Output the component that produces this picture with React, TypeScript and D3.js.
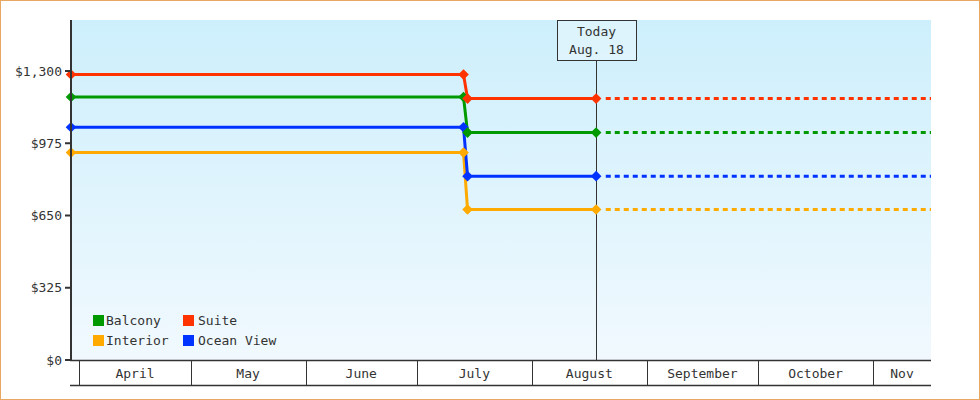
import React from "react";
import * as d3 from "d3";

const seriesNames = ["Balcony", "Suite", "Interior", "Ocean View"];
const seriesColors = ["#009900", "#ff3300", "#ffaa00", "#0033ff"];
// [year, month(0-based), day, hour]
const pointDates: [number, number, number, number][] = [
  [2024, 2, 29, 18],
  [2024, 6, 13, 14],
  [2024, 6, 14, 16],
  [2024, 7, 18, 8],
];
const balconyValues = [1183, 1183, 1023, 1023];
const suiteValues = [1284, 1284, 1176, 1176];
const interiorValues = [933, 933, 677, 677];
const oceanViewValues = [1047, 1047, 827, 827];
const yTicks = [0, 325, 650, 975, 1300];
const monthLabels = ["April", "May", "June", "July", "August", "September", "October", "Nov"];
const monthStarts: [number, number][] = [
  [2024, 3], [2024, 4], [2024, 5], [2024, 6], [2024, 7], [2024, 8], [2024, 9], [2024, 10],
];
const domainStart: [number, number, number, number] = [2024, 2, 29, 18];
const domainEnd: [number, number, number, number] = [2024, 10, 16, 15];
const todayDate: [number, number, number, number] = [2024, 7, 18, 8];
const todayLabel = ["Today", "Aug. 18"];

const W = 980;
const H = 400;
const L = 71;
const R = 931;
const T = 20;
const B = 360;
const FONT = "'DejaVu Sans Mono', monospace";

const mk = (a: number[]) => new Date(Date.UTC(a[0], a[1], a[2] ?? 1, a[3] ?? 0));

export default function App() {
  const x = d3.scaleUtc().domain([mk(domainStart), mk(domainEnd)]).range([L, R]);
  const y = d3.scaleLinear().domain([0, 1300]).range([B, 71]);
  const allValues = [balconyValues, suiteValues, interiorValues, oceanViewValues];
  const dates = pointDates.map((d) => mk(d));
  const line = d3
    .line<[Date, number]>()
    .x((d) => x(d[0]))
    .y((d) => y(d[1]));
  const diamond = d3.symbol().type(d3.symbolDiamond2).size(72)();
  const monthX = monthStarts.map((m) => x(mk(m)));
  const today = mk(todayDate);
  const todayX = Math.floor(x(today)) + 0.5;
  const drawOrder = [2, 3, 0, 1];

  return (
    <div style={{ position: "absolute", left: 0, top: 0, width: W, height: H }}>
      <svg width={W} height={H} style={{ display: "block", fontFamily: FONT }}>
        <defs>
          <linearGradient id="bg" x1="0" y1="0" x2="0" y2="1">
            <stop offset="0" stopColor="#cdeffc" />
            <stop offset="1" stopColor="#f1f9fe" />
          </linearGradient>
          <clipPath id="plot">
            <rect x={L} y={T} width={R - L} height={B - T} />
          </clipPath>
        </defs>
        <rect x={0} y={0} width={W} height={H} fill="#fff" />
        <rect x={0.5} y={0.5} width={W - 1} height={H - 1} fill="none" stroke="#e8a862" />
        <rect x={L} y={T} width={R - L} height={B - T} fill="url(#bg)" />

        {/* Today marker */}
        <line x1={todayX} x2={todayX} y1={60} y2={B} stroke="#333" strokeWidth={1} />
        <rect x={todayX - 39} y={20.5} width={79} height={40} fill="rgba(255,255,255,0.3)" stroke="#333" strokeWidth={1} />
        <text x={todayX} y={36} textAnchor="middle" fontSize={13} fill="#333">{todayLabel[0]}</text>
        <text x={todayX} y={54} textAnchor="middle" fontSize={13} fill="#333">{todayLabel[1]}</text>

        {/* Series */}
        <g clipPath="url(#plot)">
          {drawOrder.map((i) => {
            const vals = allValues[i];
            const pts: [Date, number][] = dates.map((d, k) => [d, vals[k]]);
            const last = pts[pts.length - 1];
            const dashed: [Date, number][] = [
              [new Date(today.getTime() + 2.6 * 86400000), last[1]],
              [mk(domainEnd), last[1]],
            ];
            return (
              <g key={i}>
                <path d={line(pts) || ""} fill="none" stroke={seriesColors[i]} strokeWidth={3} />
                <path d={line(dashed) || ""} fill="none" stroke={seriesColors[i]} strokeWidth={3} strokeDasharray="5,4" />
              </g>
            );
          })}
        </g>
        {drawOrder.map((i) =>
          dates.map((d, k) => (
            <path
              key={`${i}-${k}`}
              d={diamond || ""}
              transform={`translate(${x(d)},${y(allValues[i][k])})`}
              fill={seriesColors[i]}
            />
          ))
        )}

        {/* Y axis */}
        <line x1={L} x2={L} y1={T} y2={B} stroke="#333" strokeWidth={2} />
        {yTicks.map((t) => (
          <g key={t}>
            <line x1={65} x2={L} y1={y(t)} y2={y(t)} stroke="#333" strokeWidth={2} />
            <text x={62} y={y(t)} dy="0.35em" textAnchor="end" fontSize={13} fill="#333">
              {d3.format("$,")(t)}
            </text>
          </g>
        ))}

        {/* X axis band */}
        <line x1={70} x2={R} y1={B + 0.5} y2={B + 0.5} stroke="#333" strokeWidth={1.5} />
        <line x1={70} x2={R} y1={385.5} y2={385.5} stroke="#333" strokeWidth={1.5} />
        {monthX.map((mx, i) => {
          const next = i + 1 < monthX.length ? monthX[i + 1] : R;
          return (
            <g key={i}>
              <line x1={Math.round(mx) + 0.5} x2={Math.round(mx) + 0.5} y1={B} y2={385} stroke="#333" strokeWidth={1} />
              <text x={(mx + next) / 2} y={378} textAnchor="middle" fontSize={13} fill="#333">
                {monthLabels[i]}
              </text>
            </g>
          );
        })}

        {/* Legend */}
        {seriesNames.map((n, i) => {
          const col = i % 2;
          const row = Math.floor(i / 2);
          const lx = 93 + col * 90;
          const ly = 315 + row * 20;
          return (
            <g key={n}>
              <rect x={lx} y={ly} width={11} height={11} fill={seriesColors[i]} />
              <text x={lx + 13 + col * 2} y={ly + 10} fontSize={13} fill="#333">{n}</text>
            </g>
          );
        })}
      </svg>
    </div>
  );
}
